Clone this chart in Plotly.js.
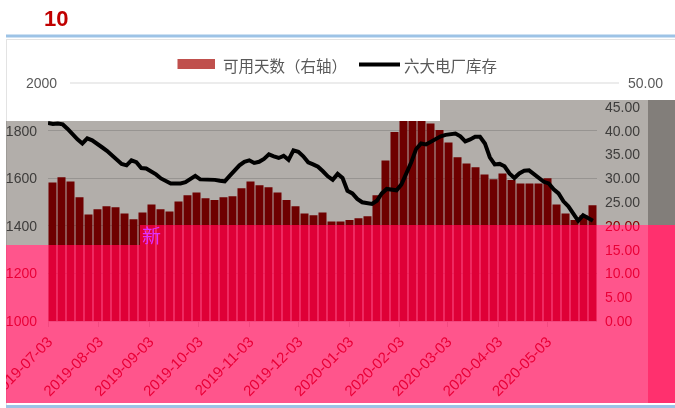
<!DOCTYPE html>
<html>
<head>
<meta charset="utf-8">
<script src="https://cdn.plot.ly/plotly-3.0.1.min.js"></script>
<style>
  html, body { margin: 0; padding: 0; background: #ffffff; }
  #chart { width: 675px; height: 408px; }
  /* gray overlay shapes blend like a multiply filter */
  .layer-above .shapelayer path[data-index="0"],
  .layer-above .shapelayer path[data-index="1"],
  .layer-above .shapelayer path[data-index="2"],
  .layer-above .shapelayer path[data-index="3"] { mix-blend-mode: multiply; }
</style>
</head>
<body>
<div id="chart"></div>
<script>
// ---------------- data ----------------
const tickDates = ['2019-07-03','2019-08-03','2019-09-03','2019-10-03','2019-11-03','2019-12-03',
                   '2020-01-03','2020-02-03','2020-03-03','2020-04-03','2020-05-03'];
const stockTicks = [1000, 1200, 1400, 1600, 1800];
const dayTicks = [0, 5, 10, 15, 20, 25, 30, 35, 40, 45];

// 可用天数（右轴） — one bar per 5.5 days starting 2019-07-05 18:00
const barStart = '2019-07-05 18:00';
const barStepDays = 5.5;
const usableDays = [
  29.1, 30.2, 29.3, 26.0, 22.4, 23.5, 24.1, 23.9, 22.6, 21.4,
  22.8, 24.5, 23.5, 23.0, 25.1, 26.4, 27.0, 25.8, 25.4, 26.0,
  26.2, 27.9, 29.3, 28.5, 28.1, 27.0, 25.4, 24.1, 22.6, 22.2,
  22.8, 20.9, 20.9, 21.2, 21.6, 22.0, 26.4, 33.7, 39.7, 42.0,
  42.0, 42.0, 41.5, 40.1, 37.5, 34.4, 33.1, 32.3, 30.8, 29.8,
  31.0, 29.6, 28.9, 28.9, 28.9, 30.0, 24.5, 22.6, 21.2, 22.2,
  24.3
];

// 六大电厂库存 — one point per 3 days starting 2019-07-03
const lineStart = '2019-07-03';
const lineStepDays = 3;
const stock = [
  1832, 1828, 1830, 1826, 1807, 1782, 1763, 1746, 1767, 1759,
  1742, 1730, 1715, 1696, 1675, 1660, 1654, 1675, 1667, 1643,
  1641, 1629, 1616, 1599, 1587, 1578, 1578, 1578, 1583, 1595,
  1610, 1595, 1595, 1597, 1593, 1589, 1587, 1610, 1631, 1654,
  1669, 1675, 1664, 1669, 1681, 1700, 1692, 1685, 1694, 1677,
  1717, 1711, 1692, 1667, 1658, 1648, 1629, 1608, 1593, 1618,
  1601, 1547, 1536, 1513, 1499, 1494, 1492, 1505, 1536, 1555,
  1553, 1549, 1574, 1620, 1667, 1723, 1746, 1742, 1753, 1763,
  1776, 1782, 1784, 1788, 1776, 1755, 1763, 1774, 1774, 1746,
  1688, 1658, 1660, 1650, 1620, 1601, 1620, 1631, 1633, 1618,
  1604, 1585, 1578, 1553, 1536, 1503, 1482, 1452, 1421, 1444,
  1433, 1421
];

const barName = '可用天数（右轴）';
const lineName = '六大电厂库存';
const chartTitle = '10';

// ---------------- layout helpers (pixel -> paper) ----------------
const W = 675, H = 408;
const L = 48, R = 597, T = 83, B = 321;
const fx = p => (p - L) / (R - L);
const fy = p => (B - p) / (B - T);
const DAY = 86400000;

function rect(x0, y0, x1, y1, fill) {
  return {type: 'rect', xref: 'paper', yref: 'paper', layer: 'above',
          x0: fx(x0), x1: fx(x1), y0: fy(y1), y1: fy(y0),
          fillcolor: fill, line: {width: 0}};
}
function hline(x0, x1, y, color, width, layer) {
  return {type: 'line', xref: 'paper', yref: 'paper', layer: layer || 'above',
          x0: fx(x0), x1: fx(x1), y0: fy(y), y1: fy(y),
          line: {color: color, width: width}};
}
function vline(x, y0, y1, color, width) {
  return {type: 'line', xref: 'paper', yref: 'paper', layer: 'below',
          x0: fx(x), x1: fx(x), y0: fy(y0), y1: fy(y1),
          line: {color: color, width: width}};
}

const GRAY = 'rgb(178,174,170)';
const PINK = 'rgba(255,0,82,0.667)';
const shapes = [
  rect(6, 121, 140, 245, GRAY),          // 0 gray (multiply)
  rect(140, 121, 440, 225, GRAY),        // 1
  rect(440, 100, 648, 225, GRAY),        // 2
  rect(648, 100, 675, 225, 'rgb(130,126,122)'), // 3
  rect(6, 245, 140, 403, PINK),          // 4 pink
  rect(140, 225, 648, 403, PINK),        // 5
  rect(648, 225, 675, 403, 'rgb(255,48,110)'), // 6
  rect(0, 36, 6, 408, '#ffffff'),        // 7 white left margin strip
  hline(6, 675, 36, '#9dc3e6', 3, 'below'),
  hline(6, 675, 406.5, '#9dc3e6', 3, 'above'),
  hline(6, 675, 39.5, '#e3e3e3', 1, 'below'),
  vline(6.5, 39, 405, '#e3e3e3', 1),
  hline(70, 619, 83, '#d9d9d9', 1, 'below'),     // top gridline (2000)
  rect(177.5, 59, 215, 69, '#c0504d'),   // legend swatch (bars)
  hline(359, 400, 64.5, '#000000', 4)    // legend swatch (line)
];

const FONT = 'Liberation Sans, Arial, sans-serif';
const CJK = 'Noto Sans CJK SC, sans-serif';
const annotations = [
  {text: '<b>' + chartTitle + '</b>', xref: 'paper', yref: 'paper', x: fx(56), y: fy(18),
   xanchor: 'center', yanchor: 'middle', showarrow: false,
   font: {family: FONT, size: 22, color: '#c00000'}},
  {text: barName, xref: 'paper', yref: 'paper', x: fx(221), y: fy(64.5),
   xanchor: 'left', yanchor: 'middle', showarrow: false,
   font: {family: CJK, size: 15.5, color: '#595959'}},
  {text: lineName, xref: 'paper', yref: 'paper', x: fx(402), y: fy(64.5),
   xanchor: 'left', yanchor: 'middle', showarrow: false,
   font: {family: CJK, size: 15.5, color: '#595959'}},
  {text: '2000', xref: 'paper', yref: 'paper', x: fx(59), y: fy(83),
   xanchor: 'right', yanchor: 'middle', showarrow: false,
   font: {family: FONT, size: 14, color: '#595959'}},
  {text: '50.00', xref: 'paper', yref: 'paper', x: fx(626), y: fy(83),
   xanchor: 'left', yanchor: 'middle', showarrow: false,
   font: {family: FONT, size: 14, color: '#595959'}},
  {text: '新', xref: 'paper', yref: 'paper', x: fx(151), y: fy(234),
   xanchor: 'center', yanchor: 'middle', showarrow: false,
   font: {family: CJK, size: 19, color: '#e030ff'}}
];

// tick label colours: labels that sit in the pink band get a red base colour
const RED_TXT = '#c00000', GRAY_TXT = '#595959';
const stockTickText = stockTicks.map(v =>
  '<span style="color:' + (v <= 1200 ? RED_TXT : GRAY_TXT) + '">' + v + '</span>');
const dayTickText = dayTicks.map(v =>
  '<span style="color:' + (v <= 20 ? RED_TXT : GRAY_TXT) + '">' + v.toFixed(2) + '</span>');

const traces = [
  {type: 'bar', name: barName, x0: barStart, dx: barStepDays * DAY, y: usableDays,
   xaxis: 'x', yaxis: 'y', marker: {color: '#9e0000', line: {width: 0}},
   showlegend: false, hoverinfo: 'skip'},
  {type: 'scatter', mode: 'lines', name: lineName, x0: lineStart, dx: lineStepDays * DAY, y: stock,
   xaxis: 'x', yaxis: 'y2', line: {color: '#000000', width: 4},
   showlegend: false, hoverinfo: 'skip'}
];

const layout = {
  width: W, height: H,
  margin: {l: L, r: W - R, t: T, b: H - B, pad: 0},
  paper_bgcolor: '#ffffff', plot_bgcolor: '#ffffff',
  showlegend: false,
  bargap: 0.11,
  xaxis: {
    type: 'date', range: ['2019-07-03', '2020-06-02 12:00'],
    tickmode: 'array', tickvals: tickDates, ticktext: tickDates, tickangle: -45,
    ticklabeloverflow: 'allow',
    tickfont: {family: FONT, size: 15, color: RED_TXT},
    showgrid: false, zeroline: false,
    showline: true, linecolor: '#d9d9d9', linewidth: 1,
    ticks: 'outside', ticklen: 5, tickcolor: '#d9d9d9'
  },
  yaxis: {
    side: 'right', range: [0, 50], tickmode: 'array', tickvals: dayTicks, ticktext: dayTickText,
    tickfont: {family: FONT, size: 14, color: GRAY_TXT},
    showgrid: false, zeroline: false, showline: false, ticks: '', ticklabelstandoff: 7
  },
  yaxis2: {
    side: 'left', overlaying: 'y', anchor: 'x', range: [1000, 2000],
    tickmode: 'array', tickvals: stockTicks, ticktext: stockTickText,
    tickfont: {family: FONT, size: 14, color: GRAY_TXT},
    showgrid: true, gridcolor: '#d9d9d9', gridwidth: 1,
    zeroline: false, showline: false, ticks: '', ticklabelstandoff: 10
  },
  shapes: shapes,
  annotations: annotations
};

Plotly.newPlot('chart', traces, layout, {staticPlot: true, displayModeBar: false});
</script>
</body>
</html>
